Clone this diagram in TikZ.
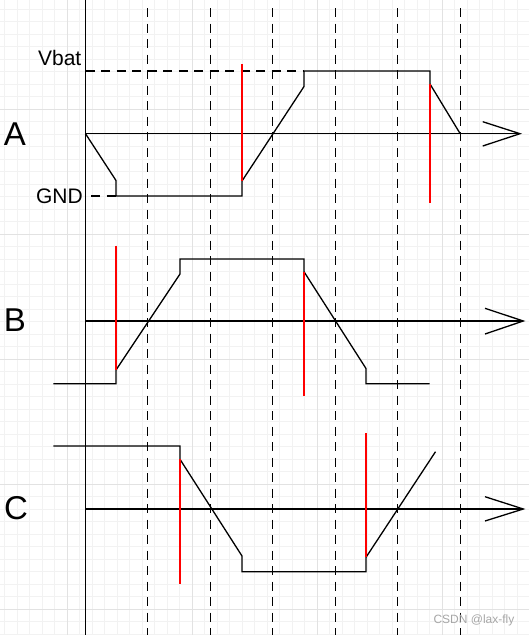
\documentclass[tikz,border=0pt]{standalone}
\usepackage{fontspec}
\setmainfont{Liberation Sans}
\definecolor{gridminor}{HTML}{F2F2F2}
\definecolor{gridmajor}{HTML}{E2E2E2}
\definecolor{wmark}{HTML}{A6A6A6}
\begin{document}
\begin{tikzpicture}[x=1pt,y=-1pt,
  sig/.style={line width=1.3pt,line join=miter},
  edge/.style={red,line width=1.6pt},
  guide/.style={line width=1.2pt,dash pattern=on 9pt off 6.5pt},
  lab/.style={font=\fontsize{21}{25}\selectfont,inner sep=0pt},
  big/.style={font=\fontsize{33}{40}\selectfont,inner sep=0pt}]
\useasboundingbox (0,0) rectangle (529,635);
%background grid
\foreach \gx in {0,...,41} \draw[gridminor,line width=0.9pt] (4.7+12.5*\gx,0) -- (4.7+12.5*\gx,635);
\foreach \gy in {0,...,50} \draw[gridminor,line width=0.9pt] (0,9.3+12.5*\gy) -- (529,9.3+12.5*\gy);
\foreach \gx in {67.3,192.3,317.3,442.3} \draw[gridmajor,line width=0.9pt] (\gx,0) -- (\gx,635);
\foreach \gy in {109.3,234.3,359.3,484.3,609.3} \draw[gridmajor,line width=0.9pt] (0,\gy) -- (529,\gy);
%time marks
\draw[line width=1.3pt] (85.5,0) -- (85.5,635);
\foreach \k in {0,...,5} \draw[guide] (147.7+62.5*\k,8) -- (147.7+62.5*\k,635);
%levels
\draw[guide] (85.5,71) -- (304,71);
\draw[guide] (91,196) -- (116,196);
\node[lab,anchor=base east] (vbat) at (81.5,65.7) {Vbat};
\node[lab,anchor=base east] (gnd) at (83,203.3) {GND};
%phase A
\node[big,anchor=base] (pa) at (15,145.7) {A};
\draw[sig] (85.5,133.7) -- (520,133.7);
\draw[sig] (482.7,121.7) -- (520,133.7) -- (482.7,146);
\draw[sig] (85.5,133.7) -- (116,180.5) -- (116,196) -- (242,196) -- (242,181) -- (304,86.5) -- (304,71) -- (430,71) -- (430,84) -- (460.2,133.7);
\draw[edge] (242,64.3) -- (242,181);
\draw[edge] (430,84) -- (430,202.7);
%phase B
\node[big,anchor=base] (pb) at (15,331) {B};
\draw[sig] (85.5,321) -- (523.3,321);
\draw[sig] (485,308.3) -- (523.3,321) -- (485,334);
\draw[sig] (53.3,383.7) -- (116,383.7) -- (116,370) -- (180,274) -- (180,259) -- (304,259) -- (304,271.7) -- (366,368.5) -- (366,383.7) -- (429.5,383.7);
\draw[edge] (116,245.7) -- (116,370);
\draw[edge] (304,271.7) -- (304,396);
%phase C
\node[big,anchor=base] (pc) at (16,519.5) {C};
\draw[sig] (85.5,509) -- (523.3,509);
\draw[sig] (485,496.7) -- (523.3,509) -- (485,521);
\draw[sig] (53.3,446) -- (180,446) -- (180,459.3) -- (242,556) -- (242,571.7) -- (366,571.7) -- (366,557.3) -- (435.5,451.7);
\draw[edge] (180,459.3) -- (180,584.3);
\draw[edge] (366,433.3) -- (366,557.3);
\node[wmark,font=\fontsize{12}{14}\selectfont,inner sep=0pt,anchor=base west] (csdn) at (433.3,623.7) {CSDN @lax-fly};
\end{tikzpicture}
\end{document}
